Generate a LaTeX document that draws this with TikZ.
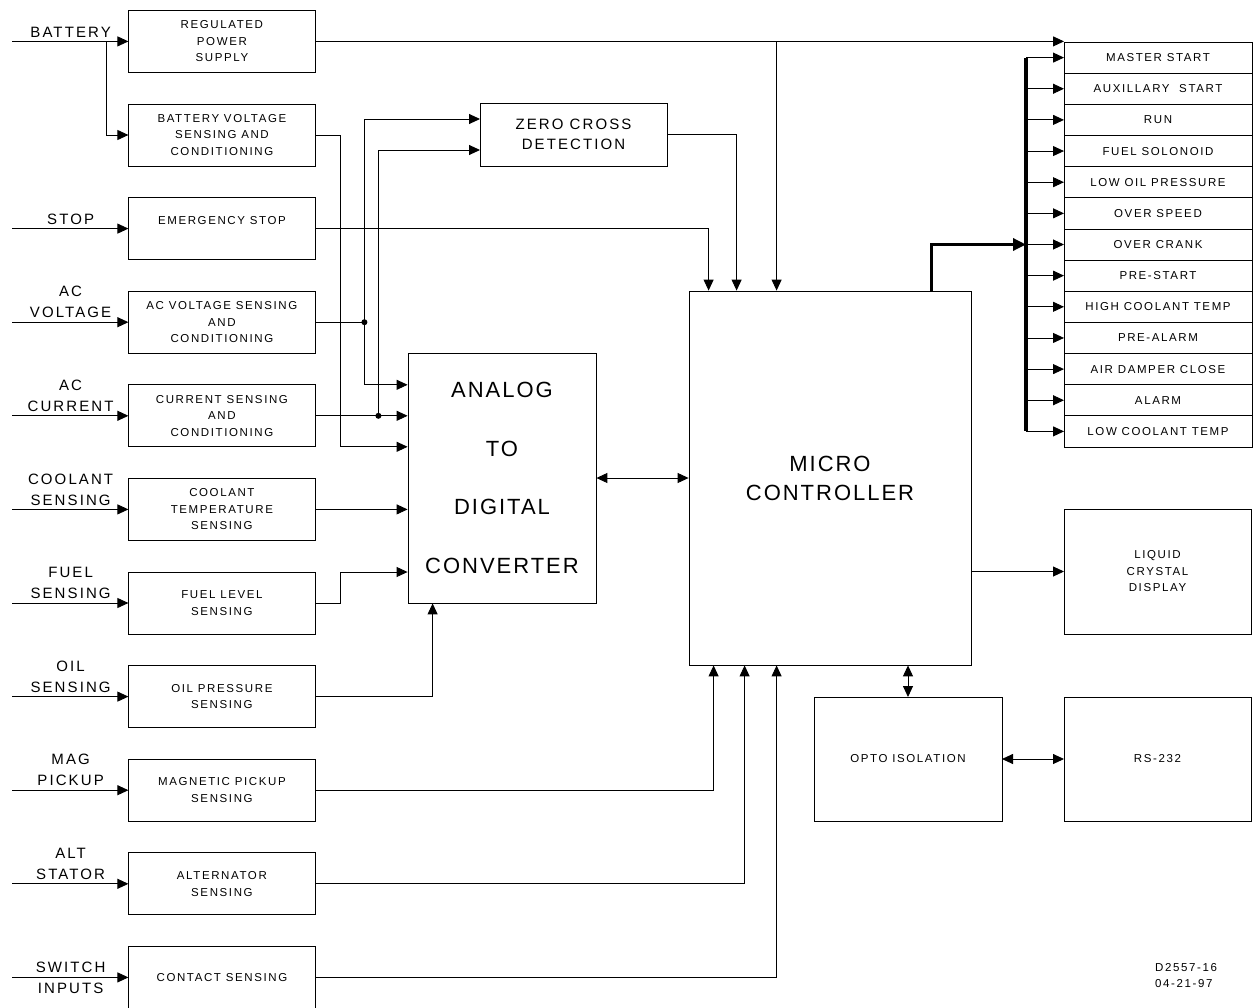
\documentclass[tikz,border=0pt]{standalone}
\usepackage{fontspec}
\setmainfont{Liberation Sans}[LetterSpace=14]
\newfontfamily\bigfont{Liberation Sans}[LetterSpace=9]
\usetikzlibrary{positioning, arrows.meta}

\begin{document}
\begin{tikzpicture}[x=1pt, y=-1pt,
        blockbox/.style={rectangle, draw, line width=0.8pt, minimum width=187pt, minimum height=62pt, inner sep=2pt, outer sep=0pt, align=center, font=\fontsize{11.5}{16.5}\selectfont},
        itembox/.style={rectangle, draw, line width=0.8pt, minimum width=188pt, minimum height=31.15pt, inner sep=0pt, outer sep=0pt, font=\fontsize{11.5}{14}\selectfont},
        inlabel/.style={anchor=south west, text width=116pt, inner xsep=0pt, inner ysep=4pt, align=center, font=\fontsize{15}{21}\selectfont},
        link/.style={draw, line width=0.9pt, -{Triangle[length=11pt, width=10pt]}},
        dlink/.style={draw, line width=0.9pt, {Triangle[length=11pt, width=10pt]}-{Triangle[length=11pt, width=10pt]}},
        wire/.style={draw, line width=0.9pt},
        bus/.style={draw, line width=3.5pt},
        buslink/.style={draw, line width=3.5pt, -{Triangle[length=13pt, width=12pt]}},
        junction/.style={circle, fill, inner sep=0pt, minimum size=6pt}
        ]
        \useasboundingbox (0,0) rectangle (1256,1007);

        % Sensor column
        \matrix (sensors) [row sep=30.8pt, anchor=north west, inner sep=0pt, outer sep=0pt] at (128,10) {
            \node[blockbox] (rps) {REGULATED\\POWER\\SUPPLY}; \\
            \node[blockbox] (bvs) {BATTERY VOLTAGE\\SENSING AND\\CONDITIONING}; \\
            \node[blockbox] (estop) {EMERGENCY STOP\\\mbox{}}; \\
            \node[blockbox] (acv) {AC VOLTAGE SENSING\\AND\\CONDITIONING}; \\
            \node[blockbox] (cur) {CURRENT SENSING\\AND\\CONDITIONING}; \\
            \node[blockbox] (cool) {COOLANT\\TEMPERATURE\\SENSING}; \\
            \node[blockbox] (fuel) {FUEL LEVEL\\SENSING}; \\
            \node[blockbox] (oil) {OIL PRESSURE\\SENSING}; \\
            \node[blockbox] (mag) {MAGNETIC PICKUP\\SENSING}; \\
            \node[blockbox] (alt) {ALTERNATOR\\SENSING}; \\
            \node[blockbox] (cont) {CONTACT SENSING}; \\
        };

        % Centre blocks
        \node[blockbox, minimum height=63pt, font=\fontsize{15}{20}\selectfont] (zc) at (573.5,134.5) {ZERO CROSS\\DETECTION};
        \node[draw, line width=0.8pt, minimum width=188pt, minimum height=250pt, align=center, font=\bigfont\fontsize{22}{58.5}\selectfont] (adc) at (502,478) {ANALOG\\TO\\DIGITAL\\CONVERTER};
        \node[draw, line width=0.8pt, minimum width=282pt, minimum height=374pt, align=center, font=\bigfont\fontsize{22}{29}\selectfont] (mc) at (830,478) {MICRO\\CONTROLLER};

        % Right blocks
        \foreach \txt [count=\i] in {MASTER START, AUXILLARY\ \ START, RUN, FUEL SOLONOID, LOW OIL PRESSURE, OVER SPEED, OVER CRANK, PRE-START, HIGH COOLANT TEMP, PRE-ALARM, AIR DAMPER CLOSE, ALARM, LOW COOLANT TEMP}
            \node[itembox] (item\i) at (1158, 26.45+31.15*\i) {\txt};
        \node[blockbox, minimum height=125pt] (lcd) at (1157.5,571.5) {LIQUID\\CRYSTAL\\DISPLAY};
        \node[blockbox, minimum width=188pt, minimum height=124pt] (opto) at (908,759) {OPTO ISOLATION};
        \node[blockbox, minimum height=124pt] (rs) at (1157.5,759) {RS-232};
        \node[anchor=west, align=left, inner sep=0pt, font=\fontsize{11.5}{16}\selectfont] (dwgno) at (1155,976) {D2557-16\\04-21-97};

        % Inputs
        \foreach \blk/\txt in {rps/BATTERY, estop/STOP, acv/{AC\\VOLTAGE}, cur/{AC\\CURRENT}, cool/{COOLANT\\SENSING}, fuel/{FUEL\\SENSING}, oil/{OIL\\SENSING}, mag/{MAG\\PICKUP}, alt/{ALT\\STATOR}} {
            \node[inlabel] (l-\blk) at ([xshift=-116pt]\blk.west) {\txt};
            \draw[link] (l-\blk.south west) -- (\blk.west);
        }
        \node[inlabel, anchor=west] (l-cont) at ([xshift=-116pt]cont.west) {SWITCH\\INPUTS};
        \draw[link] (l-cont.west) -- (cont.west);
        \draw[link] ([xshift=94pt]l-rps.south west) |- (bvs.west);

        % Links to the converter
        \coordinate (jv) at ([xshift=49pt]acv.east);
        \coordinate (ji) at ([xshift=63pt]cur.east);
        \draw[wire] (acv.east) -- (jv);
        \node[junction] (jv-dot) at (jv) {};
        \node[junction] (ji-dot) at (ji) {};
        \draw[link] (jv) |- ([yshift=15.5pt]zc.west);
        \draw[link] (jv) |- (adc.west |- cur.north);
        \draw[link] (ji) |- ([yshift=-15.5pt]zc.west);
        \draw[link] (cur.east) -- (adc.west |- cur.east);
        \draw[link] (bvs.east) -- ++(25,0) |- (adc.west |- cur.south);
        \draw[link] (cool.east) -- (adc.west |- cool.east);
        \draw[link] (fuel.east) -- ++(25,0) |- (adc.west |- fuel.north);
        \draw[link] (oil.east) -| ([xshift=25pt]adc.south west);

        % Links to the controller
        \coordinate (pwr) at ([xshift=88pt]mc.north west);
        \draw[link] (rps.east) -- (rps.east -| item1.north west);
        \draw[link] (rps.east -| pwr) -- (pwr);
        \draw[link] (estop.east) -| ([xshift=20pt]mc.north west);
        \draw[link] (zc.east) -| ([xshift=48pt]mc.north west);
        \draw[link] (mag.east) -| ([xshift=25pt]mc.south west);
        \draw[link] (alt.east) -| ([xshift=56pt]mc.south west);
        \draw[link] (cont.east) -| ([xshift=88pt]mc.south west);
        \draw[dlink] (adc.east) -- (adc.east -| mc.west);

        % Outputs
        \coordinate (bustop) at ([xshift=-38pt]item1.west);
        \draw[buslink] ([xshift=243pt]mc.north west) |- (bustop |- item7.west);
        \draw[bus] (bustop) -- (bustop |- item13.west);
        \foreach \i in {1,...,13}
            \draw[link] (bustop |- item\i.west) -- (item\i.west);
        \draw[link] (mc.east |- lcd.west) -- (lcd.west);
        \draw[dlink] (opto.north) -- (opto.north |- mc.south);
        \draw[dlink] (opto.east) -- (rs.west);

    \end{tikzpicture}
\end{document}
